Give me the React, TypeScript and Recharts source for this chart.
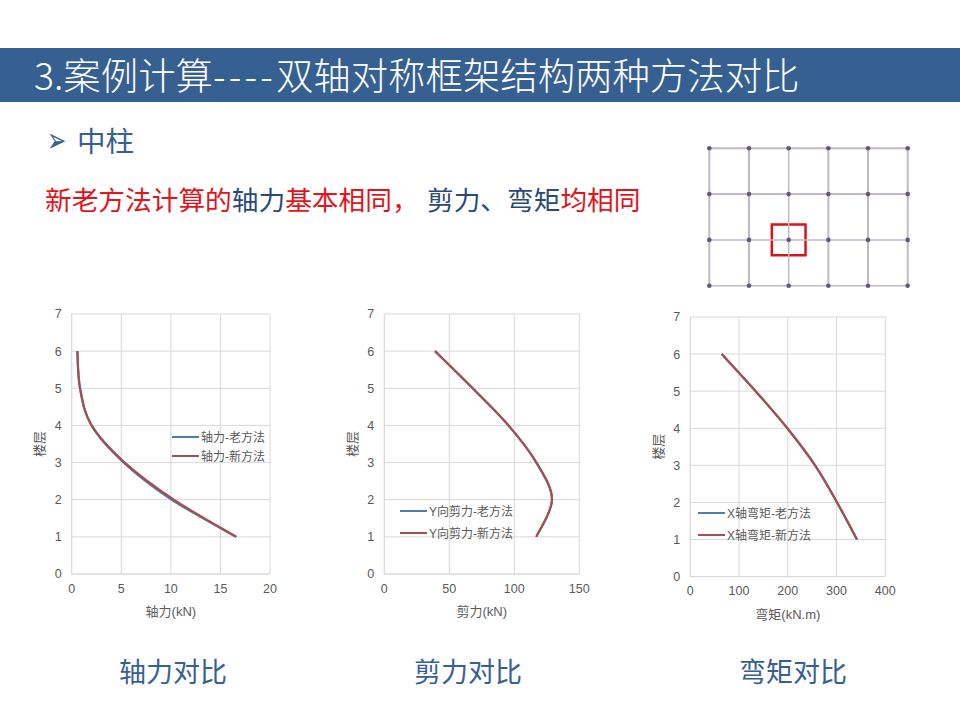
import {
  LineChart,
  Line,
  XAxis,
  YAxis,
  CartesianGrid,
  Legend,
  ScatterChart,
  Scatter,
  ReferenceLine,
  ReferenceArea,
} from 'recharts';

const FONT = '"Liberation Sans", "Noto Sans CJK SC", sans-serif';
const CJK = '"Noto Sans CJK SC", sans-serif';
const BLUE = '#376092';
const RED = '#e3141b';

const floors = [6, 5, 4, 3, 2, 1];
const floorTicks = [0, 1, 2, 3, 4, 5, 6, 7];

const axialOld = [0.57, 0.84, 2.0, 5.25, 10.1, 16.6];
const axialNew = [0.57, 0.84, 2.0, 5.35, 10.3, 16.6];
const axialTicks = [0, 5, 10, 15, 20];

const shearOld = [39, 68, 95.5, 117, 129, 116.9];
const shearNew = [39, 68, 95.5, 117, 129, 116.9];
const shearTicks = [0, 50, 100, 150];

const momentOld = [64.4, 134, 199, 256, 301, 342];
const momentNew = [64.4, 134, 199, 256, 301, 342];
const momentTicks = [0, 100, 200, 300, 400];

const gridCols = [0, 1, 2, 3, 4, 5];
const gridRows = [0, 1, 2, 3];
const gridNodes = gridRows.flatMap((r) => gridCols.map((c) => ({ c, r })));

// Excel style "smoothed line": cubic segments with Catmull-Rom tangents
function excelSmooth(ctx: any) {
  let pts: [number, number][] = [];
  return {
    areaStart() {},
    areaEnd() {},
    lineStart() {
      pts = [];
    },
    point(x: number, y: number) {
      pts.push([+x, +y]);
    },
    lineEnd() {
      pts.forEach((pt, i) => {
        if (i === 0) {
          ctx.moveTo(pt[0], pt[1]);
          return;
        }
        const p0 = pts[i - 2] || pts[i - 1];
        const p1 = pts[i - 1];
        const p3 = pts[i + 1] || pt;
        ctx.bezierCurveTo(
          p1[0] + (pt[0] - p0[0]) / 6,
          p1[1] + (pt[1] - p0[1]) / 6,
          pt[0] - (p3[0] - p1[0]) / 6,
          pt[1] - (p3[1] - p1[1]) / 6,
          pt[0],
          pt[1],
        );
      });
    },
  };
}

function LegendBox({ payload, gap }: any) {
  return (
    <div style={{ display: 'flex', flexDirection: 'column', rowGap: gap }}>
      {(payload || []).map((p: any) => (
        <div key={p.value} style={{ display: 'flex', alignItems: 'center', height: 14, whiteSpace: 'nowrap' }}>
          <span style={{ width: 27, height: 2, background: p.color, marginRight: 2 }} />
          <span style={{ fontFamily: FONT, fontSize: 12, color: '#595959' }}>{p.value}</span>
        </div>
      ))}
    </div>
  );
}

interface PanelProps {
  left: number;
  plotTop: number;
  plotLeft: number;
  plotRight: number;
  plotBottom: number;
  oldVals: number[];
  newVals: number[];
  ticks: number[];
  xLabel: string;
  oldName: string;
  newName: string;
  legendX: number;
  legendY: number;
  legendGap: number;
}

function Panel(p: PanelProps) {
  const width = 290;
  const top = p.plotTop - 16;
  const height = 330;
  const data = floors.map((floor, i) => ({ floor, oldVal: p.oldVals[i], newVal: p.newVals[i] }));
  return (
    <div style={{ position: 'absolute', left: p.left, top }}>
      <LineChart
        width={width}
        height={height}
        data={data}
        layout="vertical"
        margin={{
          top: 16,
          left: p.plotLeft - p.left - 44,
          right: p.left + width - p.plotRight,
          bottom: height - (p.plotBottom - top) - 46,
        }}
      >
        <CartesianGrid stroke="#d9d9d9" strokeWidth={1} />
        <XAxis
          type="number"
          domain={[p.ticks[0], p.ticks[p.ticks.length - 1]]}
          ticks={p.ticks}
          height={46}
          stroke="#d9d9d9"
          tickLine={false}
          tick={{ fill: '#595959', fontSize: 12.5, fontFamily: FONT }}
          tickMargin={4}
          label={{ value: p.xLabel, position: 'insideBottom', offset: 4, fill: '#595959', fontSize: 13, fontFamily: FONT }}
        />
        <YAxis
          type="number"
          dataKey="floor"
          domain={[0, 7]}
          ticks={floorTicks}
          reversed
          width={44}
          stroke="#d9d9d9"
          tickLine={false}
          tick={{ fill: '#595959', fontSize: 12.5, fontFamily: FONT }}
          tickMargin={4}
          label={{ value: '楼层', angle: -90, position: 'insideLeft', offset: 12, textAnchor: 'middle', fill: '#595959', fontSize: 13, fontFamily: FONT }}
        />
        <Legend
          layout="vertical"
          align="center"
          verticalAlign="middle"
          itemSorter={(item: any) => (item.dataKey === 'oldVal' ? 0 : 1)}
          content={<LegendBox gap={p.legendGap} />}
          wrapperStyle={{ left: p.legendX - p.left, top: p.legendY - top, width: 130, bottom: 'auto' }}
        />
        <Line dataKey="oldVal" name={p.oldName} type={excelSmooth as any} stroke="#4f7cac" strokeWidth={2.2} dot={false} isAnimationActive={false} />
        <Line dataKey="newVal" name={p.newName} type={excelSmooth as any} stroke="#a44f50" strokeWidth={2.2} dot={false} isAnimationActive={false} />
      </LineChart>
    </div>
  );
}

function FrameNode(props: any) {
  return <circle cx={props.cx} cy={props.cy} r={2.3} fill="#5f5a78" />;
}

function FrameMap() {
  return (
    <div style={{ position: 'absolute', left: 699, top: 138 }}>
      <ScatterChart width={219} height={158} margin={{ top: 10.3, left: 10.3, right: 10.3, bottom: 10.3 }}>
        <XAxis type="number" dataKey="c" domain={[0, 5]} hide />
        <YAxis type="number" dataKey="r" domain={[0, 3]} hide />
        {gridRows.map((r) => (
          <ReferenceLine key={'r' + r} y={r} stroke="#c2b8cc" strokeWidth={r > 1 ? 2 : 1.5} />
        ))}
        {gridCols.map((c) => (
          <ReferenceLine key={'c' + c} x={c} stroke="#c2b8cc" strokeWidth={c === 2 ? 1.5 : 2} />
        ))}
        <Scatter data={gridNodes} shape={<FrameNode />} isAnimationActive={false} />
        <ReferenceArea x1={1.575} x2={2.425} y1={0.666} y2={1.334} fill="none" stroke="#d8131b" strokeWidth={2.5} />
      </ScatterChart>
    </div>
  );
}

function Caption({ x, text }: { x: number; text: string }) {
  return (
    <div style={{ position: 'absolute', left: x, top: 652, fontFamily: CJK, fontSize: 27, lineHeight: '38px', color: BLUE }}>
      {text}
    </div>
  );
}

export default function App() {
  return (
    <div style={{ position: 'absolute', left: 0, top: 0, width: 960, height: 720, background: '#fff', overflow: 'hidden' }}>
      <div style={{ position: 'absolute', left: 0, top: 48, width: 960, height: 54, background: BLUE }} />
      <div style={{ position: 'absolute', left: 34, top: 48, height: 54, lineHeight: '52px', fontFamily: CJK, fontSize: 37.4, color: '#fff', fontWeight: 300, whiteSpace: 'nowrap' }}>
        3.案例计算<span style={{ letterSpacing: 3.3 }}>----</span>双轴对称框架结构两种方法对比
      </div>
      <div style={{ position: 'absolute', left: 47, top: 120, lineHeight: '40px', fontFamily: '"DejaVu Sans"', fontSize: 23, fontWeight: 700, color: BLUE, transform: 'scaleY(1.5)' }}>➢</div>
      <div style={{ position: 'absolute', left: 77, top: 120, lineHeight: '40px', fontFamily: CJK, fontSize: 28.5, color: BLUE }}>中柱</div>
      <div style={{ position: 'absolute', left: 45, top: 179, lineHeight: '40px', fontFamily: CJK, fontSize: 26.7, color: RED, whiteSpace: 'nowrap' }}>
        新老方法计算的<span style={{ color: '#2b4a76' }}>轴力</span>基本相同，
        <span style={{ position: 'absolute', left: 382, color: '#2b4a76' }}>
          剪力、弯矩<span style={{ color: RED }}>均相同</span>
        </span>
      </div>
      <FrameMap />
      <Panel left={10} plotTop={314.3} plotLeft={71.7} plotRight={270} plotBottom={574.3} oldVals={axialOld} newVals={axialNew} ticks={axialTicks} xLabel="轴力(kN)" oldName="轴力-老方法" newName="轴力-新方法" legendX={172} legendY={430} legendGap={5} />
      <Panel left={320} plotTop={314.3} plotLeft={384.3} plotRight={579.3} plotBottom={574.3} oldVals={shearOld} newVals={shearNew} ticks={shearTicks} xLabel="剪力(kN)" oldName="Y向剪力-老方法" newName="Y向剪力-新方法" legendX={400} legendY={504} legendGap={8} />
      <Panel left={625} plotTop={316.7} plotLeft={690.3} plotRight={885.3} plotBottom={576.3} oldVals={momentOld} newVals={momentNew} ticks={momentTicks} xLabel="弯矩(kN.m)" oldName="X轴弯矩-老方法" newName="X轴弯矩-新方法" legendX={698} legendY={506} legendGap={8} />
      <Caption x={119} text="轴力对比" />
      <Caption x={414} text="剪力对比" />
      <Caption x={739} text="弯矩对比" />
    </div>
  );
}
